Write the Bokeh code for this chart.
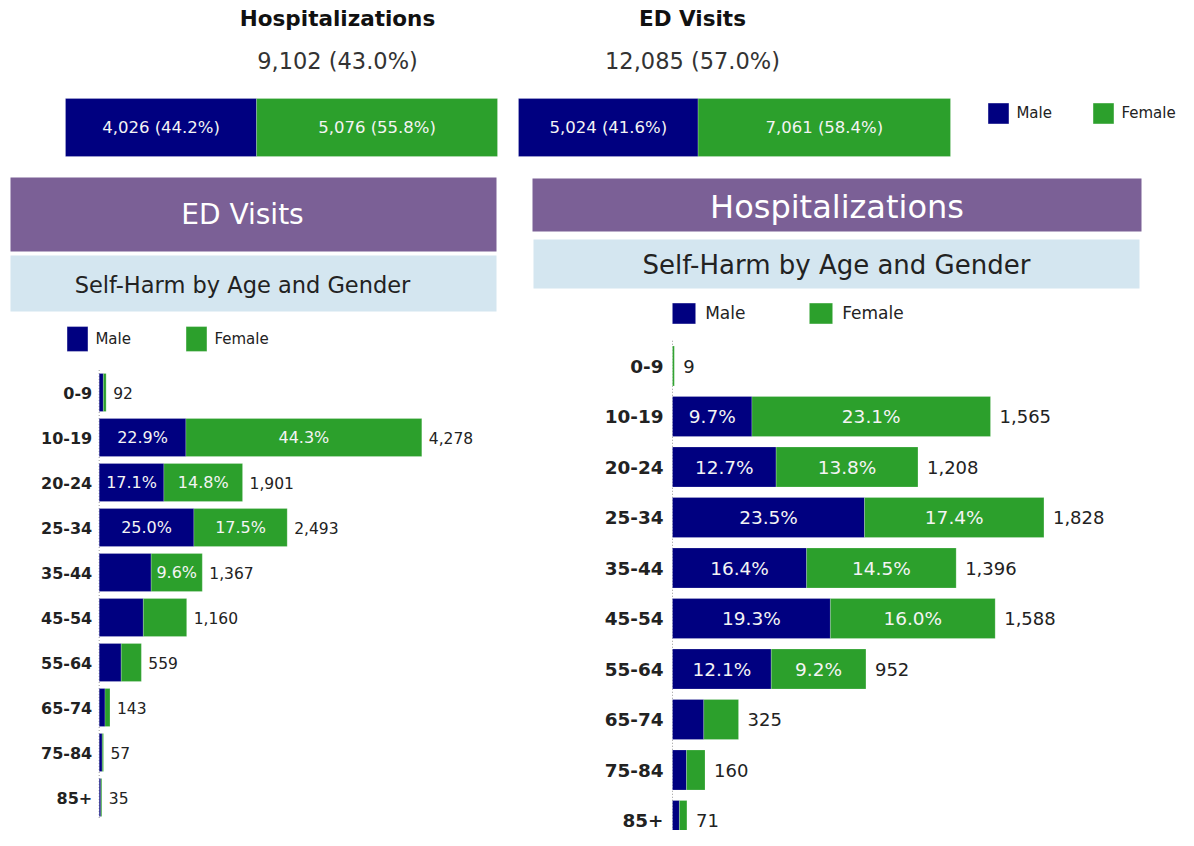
from bokeh.plotting import figure
from bokeh.models import Range1d, ColumnDataSource, Legend, LegendItem
from bokeh.core.properties import value
from bokeh.embed import file_html
from bokeh.resources import INLINE

# ---------------- data ----------------
ages = ["0-9", "10-19", "20-24", "25-34", "35-44", "45-54", "55-64", "65-74", "75-84", "85+"]
ed_male = [55, 1150, 858, 1256, 689, 585, 292, 77, 40, 22]
ed_female = [37, 3128, 1043, 1237, 678, 575, 267, 66, 17, 13]
hosp_male = [0, 391, 510, 945, 660, 777, 486, 154, 69, 34]
hosp_female = [9, 1174, 698, 883, 736, 811, 466, 171, 91, 37]
genders = ["Male", "Female"]
section_titles = ["Hospitalizations", "ED Visits"]
panel_subtitle = "Self-Harm by Age and Gender"

# ---------------- style / layout ----------------
FONT_NAME = "DejaVu Sans"
FONT = value(FONT_NAME)
MALE_C = "#000080"
FEMALE_C = "#2CA02C"
PURPLE = "#7B6096"
LIGHTBLUE = "#D4E6F0"
DARK = "#222222"
W, H = 1178, 830
X0, X1, Y0, Y1 = 0, W, 0, H
BAR_LINE = dict(line_color="white", line_alpha=0.2, line_width=1)

def xrange_px(px0, px1, v1):
    u = v1 / (px1 - px0)
    return Range1d(start=(X0 - px0) * u, end=(X1 - px0) * u)

def xrange_ppu(axis_px, ppu):
    return Range1d(start=(X0 - axis_px) / ppu, end=(X1 - axis_px) / ppu)

def yrange_band(c0, step):
    return Range1d(start=(Y1 - c0) / step, end=(Y0 - c0) / step)

hosp_m_tot, hosp_f_tot = sum(hosp_male), sum(hosp_female)
ed_m_tot, ed_f_tot = sum(ed_male), sum(ed_female)
hosp_tot, ed_tot = hosp_m_tot + hosp_f_tot, ed_m_tot + ed_f_tot
grand = hosp_tot + ed_tot

ED_AXIS, ED_PPU, ED_C0, ED_STEP, ED_BH = 98.7, 0.07541, 392.0, 45.0, 38.0
HO_AXIS, HO_PPU, HO_C0, HO_STEP, HO_BH = 672.0, 0.2032, 365.5, 50.5, 40.0

p = figure(width=W, height=H, x_range=Range1d(X0, X1), y_range=Range1d(Y1, Y0),
           output_backend="svg", toolbar_location=None, min_border=0,
           x_axis_location=None, y_axis_location=None)
p.grid.visible = False
p.outline_line_color = None
p.background_fill_color = "white"

p.extra_x_ranges = {
    "hosp_top": xrange_px(65, 497, hosp_tot),
    "ed_top": xrange_px(518, 950, ed_tot),
    "ed": xrange_ppu(ED_AXIS, ED_PPU),
    "hosp": xrange_ppu(HO_AXIS, HO_PPU),
}
p.extra_y_ranges = {
    "ed": yrange_band(ED_C0, ED_STEP),
    "hosp": yrange_band(HO_C0, HO_STEP),
}

def txt(x, y, s, size, color=DARK, bold=False, align="center", **kw):
    p.text(x=[x], y=[y], text=[s], text_font=FONT, text_font_size=size,
           text_color=color, text_align=align, text_baseline="middle",
           text_font_style="bold" if bold else "normal", **kw)

def make_legend(rm, rf, sq_left, sq_top, sq_w, sq_h, text_left, next_sq_left, fsz):
    # Bokeh insets area legend glyphs by 10% on each side
    gw, gh = sq_w / 0.8, sq_h / 0.8
    box_left = sq_left - 0.1 * gw
    box_bottom = sq_top + sq_h + 0.1 * gh
    standoff = text_left - (box_left + gw)
    label_w = (next_sq_left - sq_left) - gw - standoff
    return Legend(items=[LegendItem(label=genders[0], renderers=[rm]),
                         LegendItem(label=genders[1], renderers=[rf])],
                  orientation="horizontal", location=(box_left - X0, Y1 - box_bottom),
                  glyph_width=round(gw), glyph_height=round(gh), label_height=round(gh),
                  label_width=round(label_w), label_standoff=round(standoff),
                  spacing=0, padding=0, margin=0,
                  border_line_alpha=0, background_fill_alpha=0,
                  label_text_font=FONT_NAME, label_text_font_size=fsz, label_text_color=DARK)

# ---------------- top summary ----------------
TOP_Y, TOP_H = 127, 58
top_specs = [
    ("hosp_top", hosp_m_tot, hosp_f_tot, hosp_tot, 337, section_titles[0]),
    ("ed_top", ed_m_tot, ed_f_tot, ed_tot, 692, section_titles[1]),
]
top_renderers = []
for rng, m, f, tot, cx, title in top_specs:
    txt(cx, 18, title, "21.5px", color="#111111", bold=True)
    txt(cx, 60, f"{tot:,} ({100 * tot / grand:.1f}%)", "22.5px", color="#333333")
    rm = p.hbar(y=[TOP_Y], left=[0], right=[m], height=TOP_H, x_range_name=rng,
                fill_color=MALE_C, **BAR_LINE)
    rf = p.hbar(y=[TOP_Y], left=[m], right=[m + f], height=TOP_H, x_range_name=rng,
                fill_color=FEMALE_C, **BAR_LINE)
    top_renderers.append((rm, rf))
    p.text(x=[m / 2, m + f / 2], y=[TOP_Y, TOP_Y],
           text=[f"{m:,} ({100 * m / tot:.1f}%)", f"{f:,} ({100 * f / tot:.1f}%)"],
           x_range_name=rng, text_font=FONT, text_font_size="16.5px",
           text_color="#F4F4F4", text_align="center", text_baseline="middle")

p.add_layout(make_legend(top_renderers[0][0], top_renderers[0][1],
                         988, 102, 21, 21, 1017, 1094, "15px"))

# ---------------- panel headers ----------------
p.quad(left=10, right=496, top=177, bottom=251, fill_color=PURPLE, line_color=None)
p.quad(left=10, right=496, top=255, bottom=311, fill_color=LIGHTBLUE, line_color=None)
txt(242, 214, section_titles[1], "28px", color="white")
txt(242, 284, panel_subtitle, "22.5px", color=DARK)

p.quad(left=532, right=1141, top=178, bottom=231, fill_color=PURPLE, line_color=None)
p.quad(left=533, right=1139, top=239, bottom=288, fill_color=LIGHTBLUE, line_color=None)
txt(836.5, 206, section_titles[0], "32px", color="white")
txt(836, 264, panel_subtitle, "26px", color=DARK)

# ---------------- age charts ----------------
def age_chart(rng, male, female, ppu, bh_frac, fsz, cat_off, val_off, leg):
    n = len(ages)
    mt, ft = sum(male), sum(female)
    tot = [a + b for a, b in zip(male, female)]
    src = ColumnDataSource(dict(idx=list(range(n)), age=ages, male=male,
                                total=tot, totlab=[f"{t:,}" for t in tot]))
    p.segment(x0=[0], y0=[-0.5], x1=[0], y1=[n - 0.5], x_range_name=rng, y_range_name=rng,
              line_color="#9A9A9A", line_dash="1 2", line_width=1)
    rm = p.hbar(y="idx", left=0, right="male", height=bh_frac, source=src,
                x_range_name=rng, y_range_name=rng, fill_color=MALE_C, **BAR_LINE)
    rf = p.hbar(y="idx", left="male", right="total", height=bh_frac, source=src,
                x_range_name=rng, y_range_name=rng, fill_color=FEMALE_C, **BAR_LINE)
    p.text(x=0, y="idx", text="age", source=src, x_offset=cat_off,
           x_range_name=rng, y_range_name=rng, text_font=FONT, text_font_size=fsz["cat"],
           text_font_style="bold", text_color=DARK, text_align="right", text_baseline="middle")
    p.text(x="total", y="idx", text="totlab", source=src, x_offset=val_off,
           x_range_name=rng, y_range_name=rng, text_font=FONT, text_font_size=fsz["val"],
           text_color=DARK, text_align="left", text_baseline="middle")
    xs, ys, ts = [], [], []
    fpx = float(fsz["pct"].replace("px", ""))
    for i in range(n):
        for v, start, t_all in ((male[i], 0, mt), (female[i], male[i], ft)):
            lab = f"{100 * v / t_all:.1f}%"
            if v * ppu >= len(lab) * 0.64 * fpx + 4:
                xs.append(start + v / 2); ys.append(i); ts.append(lab)
    p.text(x=xs, y=ys, text=ts, x_range_name=rng, y_range_name=rng,
           text_font=FONT, text_font_size=fsz["pct"], text_color="#F4F4F4",
           text_align="center", text_baseline="middle")
    p.add_layout(make_legend(rm, rf, *leg))

age_chart("ed", ed_male, ed_female, ED_PPU, ED_BH / ED_STEP,
          {"cat": "16px", "val": "15.5px", "pct": "16px"}, -7, 7,
          (67, 326, 21, 25, 96, 187, "15px"))
age_chart("hosp", hosp_male, hosp_female, HO_PPU, HO_BH / HO_STEP,
          {"cat": "18.4px", "val": "18px", "pct": "18.5px"}, -9, 9,
          (672, 302, 23, 21, 705, 809, "17px"))

open("out.html", "w").write(file_html(p, INLINE))
